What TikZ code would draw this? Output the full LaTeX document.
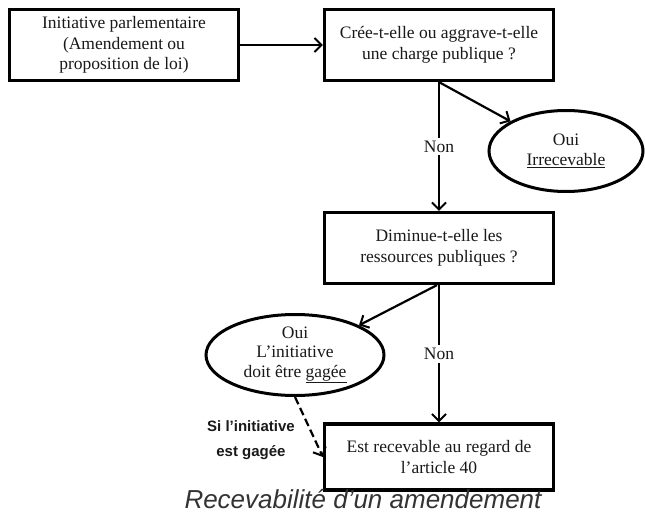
\documentclass[tikz,border=0pt]{standalone}
\usepackage{fontspec}
\setmainfont{Liberation Serif}
\newfontfamily\capfont{Liberation Sans}
\usetikzlibrary{arrows.meta,shapes.geometric}
\begin{document}
\begin{tikzpicture}[x=1pt,y=-1pt,
  box/.style={draw, line width=3.2pt, minimum width=229pt, minimum height=71pt, align=center,
    text=black!90, font=\fontsize{17.5}{20.5}\selectfont, inner sep=2pt},
  oval/.style={draw, ellipse, line width=3pt, align=center, inner sep=0pt,
    text=black!90, font=\fontsize{17.5}{19.5}\selectfont},
  conn/.style={line width=2.2pt, -{Straight Barb[length=7pt,width=14pt,line width=2pt]}},
  lab/.style={fill=white, text=black!90, font=\fontsize{17.5}{20}\selectfont, inner sep=3pt},
  sidelab/.style={align=center, font=\capfont\bfseries\fontsize{15}{25}\selectfont, text=black!90},
  caption/.style={font=\capfont\itshape\fontsize{26}{30}\selectfont, text=black!80, anchor=base, inner sep=0pt}
]
\useasboundingbox (0,0) rectangle (645,514);

\node[box] (b1) at (124,45) {Initiative parlementaire\\(Amendement ou\\proposition de loi)};
\node[box] (b2) at (439,45) {Crée-t-elle ou aggrave-t-elle\\une charge publique ?};
\node[box] (b3) at (439,248) {Diminue-t-elle les\\ressources publiques ?};
\node[box, minimum height=66pt] (b4) at (439,457) {Est recevable au regard de\\l’article 40};

\node[oval, minimum width=154pt, minimum height=81pt] (e1) at (566,151) {Oui\\\underline{Irrecevable}};
\node[oval, minimum width=178pt, minimum height=81pt] (e2) at (295,355) {Oui\\L’initiative\\doit être \underline{gagée}};

\draw[conn] (b1) -- (b2);
\draw[conn] (b2.south) -- (e1.north west);
\draw[conn] (b2.south) -- node[lab] (n1) {Non} (b3.north);
\draw[conn] ([xshift=-2pt]b3.south) -- (e2.north east);
\draw[conn] (b3.south) -- node[lab] (n2) {Non} (b4.north);
\draw[conn, dash pattern=on 8pt off 4pt] (e2.south) -- ([yshift=0pt]b4.west);

\node[sidelab] (sl) at (251,440) {Si l’initiative\\est gagée};
\node[caption] (cap) at (363,508.5) {Recevabilité d’un amendement};
\end{tikzpicture}
\end{document}
